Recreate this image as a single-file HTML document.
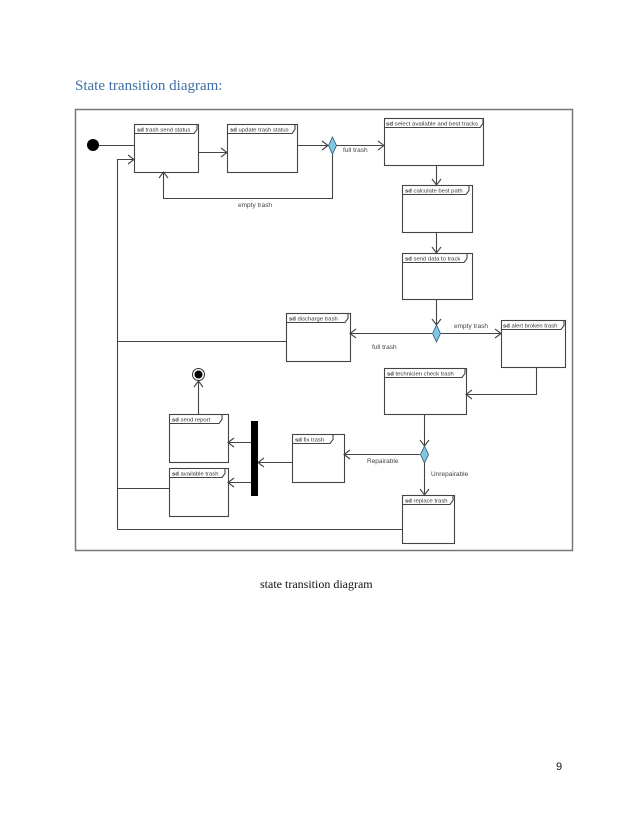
<!DOCTYPE html>
<html><head><meta charset="utf-8"><style>
html,body{margin:0;padding:0;background:#fff;}
svg{display:block;}
.t{font-family:"Liberation Sans",sans-serif;font-size:5.9px;fill:#333;}
.l{font-family:"Liberation Sans",sans-serif;font-size:6.5px;fill:#444;}
</style></head><body>
<svg width="638" height="826" viewBox="0 0 638 826" xmlns="http://www.w3.org/2000/svg">
<text x="75" y="90" font-family="Liberation Serif,serif" font-size="15" fill="#3f6fa8">State transition diagram:</text>
<rect x="75.5" y="109.5" width="497" height="441" fill="#fff" stroke="#777" stroke-width="1.5"/>
<g fill="none" stroke="#444" stroke-width="1.1">
<rect x="134.5" y="124.5" width="64" height="48"/>
<rect x="227.5" y="124.5" width="70" height="48"/>
<rect x="384.5" y="118.5" width="99" height="47"/>
<rect x="402.5" y="185.5" width="70" height="47"/>
<rect x="402.5" y="253.5" width="70" height="46"/>
<rect x="286.5" y="313.5" width="64" height="48"/>
<rect x="501.5" y="320.5" width="64" height="47"/>
<rect x="384.5" y="368.5" width="82" height="46"/>
<rect x="292.5" y="434.5" width="52" height="48"/>
<rect x="169.5" y="414.5" width="59" height="48"/>
<rect x="169.5" y="468.5" width="59" height="48"/>
<rect x="402.5" y="495.5" width="52" height="48"/>
<path d="M134.5 133.5H194l3-4v-5"/>
<path d="M227.5 133.5H292l3-4v-5"/>
<path d="M384.5 127.5H480l3-4v-5"/>
<path d="M402.5 194.5H466l3-4v-5"/>
<path d="M402.5 262.5H464l3-4v-5"/>
<path d="M286.5 322.5H345l3-4v-5"/>
<path d="M501.5 329.5H561l3-4v-5"/>
<path d="M384.5 377.5H462l3-4v-5"/>
<path d="M292.5 443.5H330l3-4v-5"/>
<path d="M169.5 423.5H219l3-4v-5"/>
<path d="M169.5 477.5H222l3-4v-5"/>
<path d="M402.5 504.5H450l3-4v-5"/>
<path d="M99 145.5H134"/>
<path d="M117.5 529.5V159.5H134"/><path d="M128 155l6 4.5-6 4.5"/>
<path d="M198 152.5H227"/><path d="M221 148l6 4.5-6 4.5"/>
<path d="M297 145.5H328"/><path d="M322 141l6 4.5-6 4.5"/>
<path d="M336 145.5H384"/><path d="M378 141l6 4.5-6 4.5"/>
<path d="M332.5 153V198.5H163.5V172"/><path d="M159 178l4.5-6 4.5 6"/>
<path d="M436.5 165V185"/><path d="M432 179l4.5 6 4.5-6"/>
<path d="M436.5 232V253"/><path d="M432 247l4.5 6 4.5-6"/>
<path d="M436.5 299V325"/><path d="M432 319l4.5 6 4.5-6"/>
<path d="M432 333.5H350"/><path d="M356 329l-6 4.5 6 4.5"/>
<path d="M441 333.5H501"/><path d="M495 329l6 4.5-6 4.5"/>
<path d="M286 341.5H117.5"/>
<path d="M536.5 367V394.5H466"/><path d="M472 390l-6 4.5 6 4.5"/>
<path d="M424.5 414V446"/><path d="M420 440l4.5 6 4.5-6"/>
<path d="M420 454.5H344"/><path d="M350 450l-6 4.5 6 4.5"/>
<path d="M424.5 463V495"/><path d="M420 489l4.5 6 4.5-6"/>
<path d="M402 529.5H117.5"/>
<path d="M292 462.5H258"/><path d="M264 458l-6 4.5 6 4.5"/>
<path d="M251 442.5H228"/><path d="M234 438l-6 4.5 6 4.5"/>
<path d="M251 482.5H228"/><path d="M234 478l-6 4.5 6 4.5"/>
<path d="M169 488.5H117.5"/>
<path d="M198.5 414V381"/><path d="M194 387l4.5-6 4.5 6"/>
</g>
<circle cx="93" cy="145" r="6" fill="#000"/>
<circle cx="198.5" cy="374.5" r="6" fill="#fff" stroke="#333"/>
<circle cx="198.5" cy="374.5" r="4" fill="#000"/>
<rect x="251" y="421" width="7" height="75" fill="#000"/>
<g fill="#7ec8e3" stroke="#357" stroke-width="0.8">
<path d="M332.5 137l4 8.5-4 8.5-4-8.5z"/>
<path d="M436.5 325l4 8.5-4 8.5-4-8.5z"/>
<path d="M424.5 446l4 8.5-4 8.5-4-8.5z"/>
</g>
<g class="t">
<text x="137" y="131.5"><tspan font-weight="bold">sd</tspan> trash send status</text>
<text x="230" y="131.5"><tspan font-weight="bold">sd</tspan> update trash status</text>
<text x="386" y="125.5" textLength="92" lengthAdjust="spacingAndGlyphs"><tspan font-weight="bold">sd</tspan> select available and best tracks</text>
<text x="405" y="192.5"><tspan font-weight="bold">sd</tspan> calculate best path</text>
<text x="405" y="260.5"><tspan font-weight="bold">sd</tspan> send data to track</text>
<text x="289" y="320.5"><tspan font-weight="bold">sd</tspan> discharge trash</text>
<text x="503" y="327.5"><tspan font-weight="bold">sd</tspan> alert broken trash</text>
<text x="387" y="375.5"><tspan font-weight="bold">sd</tspan> technicien check trash</text>
<text x="295" y="441.5"><tspan font-weight="bold">sd</tspan> fix trash</text>
<text x="172" y="421.5"><tspan font-weight="bold">sd</tspan> send report</text>
<text x="172" y="475.5"><tspan font-weight="bold">sd</tspan> available trash</text>
<text x="405" y="502.5"><tspan font-weight="bold">sd</tspan> replace trash</text>
</g>
<g class="l">
<text x="343" y="152">full trash</text>
<text x="238" y="207">empty trash</text>
<text x="454" y="328">empty trash</text>
<text x="372" y="349">full trash</text>
<text x="367" y="463">Repairable</text>
<text x="431" y="476">Unrepairable</text>
</g>
<text x="260" y="588" font-family="Liberation Serif,serif" font-size="12" fill="#111">state transition diagram</text>
<text x="556" y="770" font-family="Liberation Sans,sans-serif" font-size="11" fill="#111">9</text>
</svg>
</body></html>
